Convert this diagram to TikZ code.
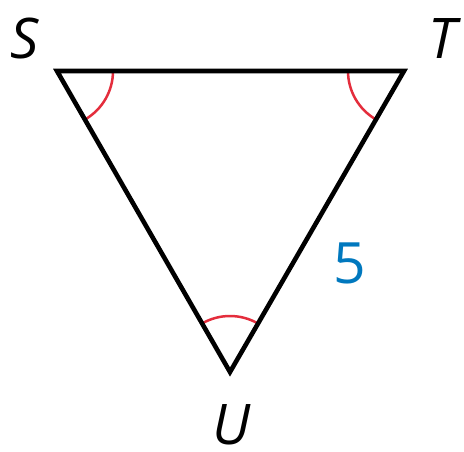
\documentclass[tikz,border=0pt]{standalone}
\usepackage{fontspec}
\setmainfont{Open Sans}
\definecolor{arcred}{RGB}{228,45,60}
\definecolor{numblue}{RGB}{0,120,190}
\begin{document}
\begin{tikzpicture}[x=1pt,y=-1pt,
  side/.style={line width=4.6pt,line join=miter},
  anglearc/.style={draw=arcred,line width=2.5pt},
  vlabel/.style={font=\fontsize{56}{56}\selectfont\itshape,inner sep=0pt,text depth=0pt,anchor=base},
  lenlabel/.style={font=\fontsize{57}{57}\selectfont,text=numblue,inner sep=0pt,text depth=0pt,anchor=base}]
\useasboundingbox (0,0) rectangle (464,451);
\coordinate (S) at (57,71);
\coordinate (T) at (404,71);
\coordinate (U) at (230,372);
\draw[anglearc] ([shift={(0:56)}]S) arc[start angle=0,end angle=60,radius=56];
\draw[anglearc] ([shift={(180:56)}]T) arc[start angle=180,end angle=120,radius=56];
\draw[anglearc] ([shift={(60:-56)}]U) arc[start angle=240,end angle=300,radius=56];
\draw[side] (S) -- (T) -- (U) -- cycle;
\node[vlabel] (ls) at (25,58) {S};
\node[vlabel] (lt) at (442,58) {T};
\node[vlabel] (lu) at (231,444) {U};
\node[lenlabel] (l5) at (350,283) {5};
\end{tikzpicture}
\end{document}
